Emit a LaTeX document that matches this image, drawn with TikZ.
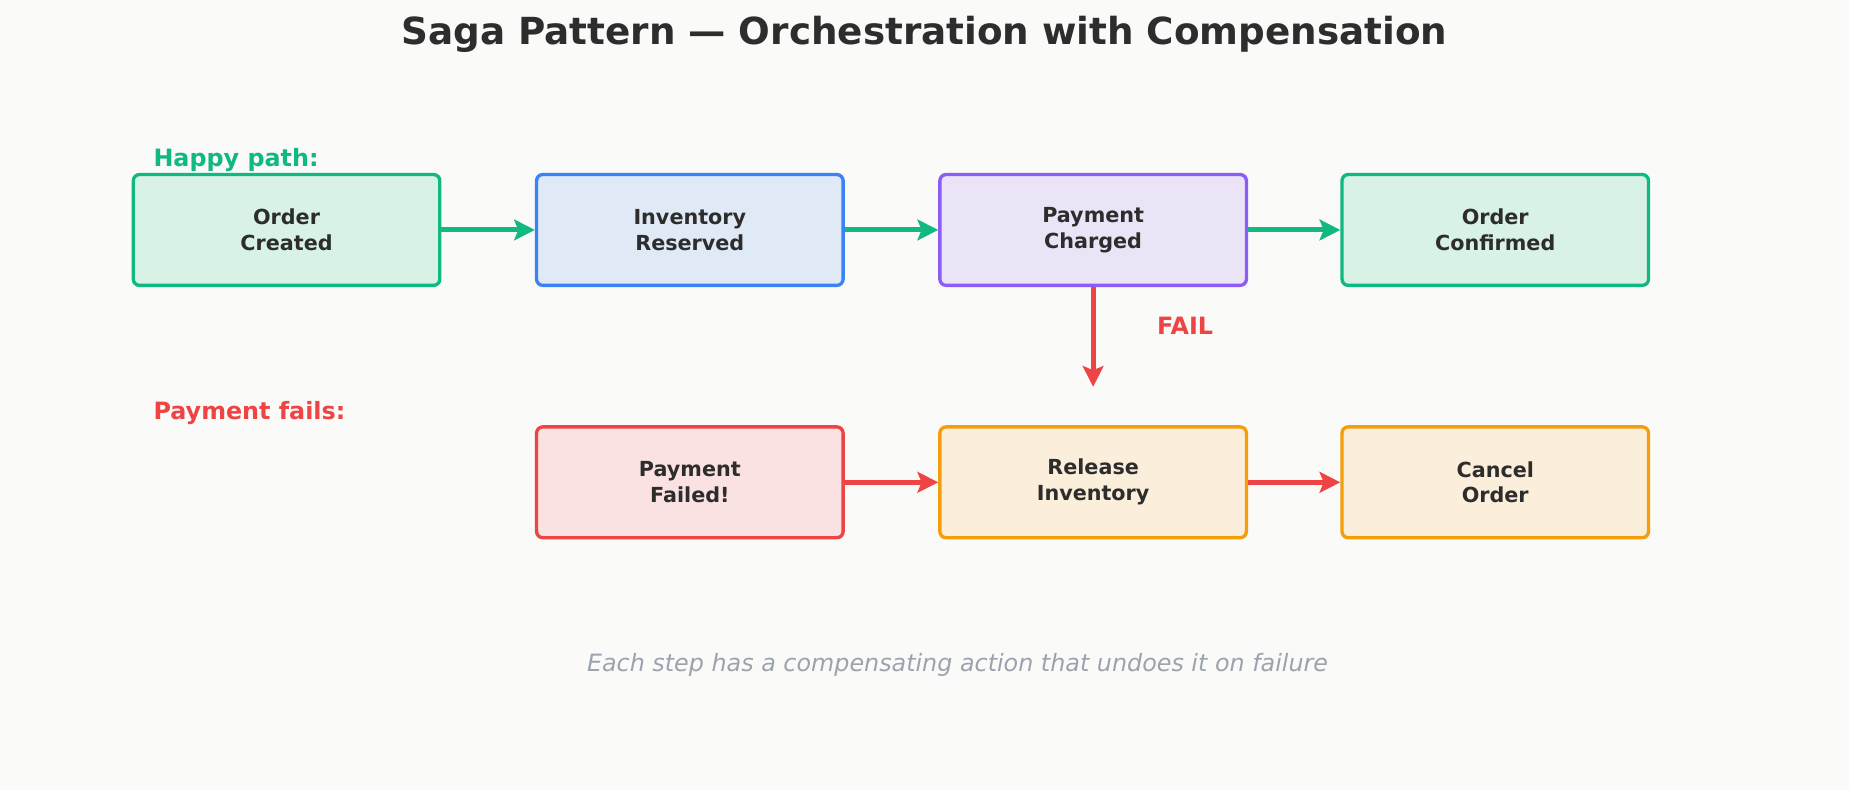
\documentclass[tikz,border=0pt]{standalone}
\usepackage{fontspec}
\setmainfont{DejaVu Sans}
\usetikzlibrary{positioning,arrows.meta}
\definecolor{bgc}{HTML}{FAFAF9}
\definecolor{txt}{HTML}{2D2D2D}
\definecolor{grn}{HTML}{10B981}\definecolor{grnf}{HTML}{D9F2E6}
\definecolor{blu}{HTML}{3B82F6}\definecolor{bluf}{HTML}{E0EAF7}
\definecolor{pur}{HTML}{8B5CF6}\definecolor{purf}{HTML}{EBE4F7}
\definecolor{rd}{HTML}{EF4444}\definecolor{rdf}{HTML}{FAE1E2}
\definecolor{org}{HTML}{F59E0B}\definecolor{orgf}{HTML}{FBEEDA}
\definecolor{gry}{HTML}{9CA3AF}
\begin{document}
\begin{tikzpicture}[x=0.02cm,y=-0.02cm,
  stage/.style = {draw, line width=1.6pt, rounded corners=3pt, minimum width=5.2cm, minimum height=1.88cm,
                 align=center, font=\bfseries\fontsize{10}{12.5}\selectfont, text=txt},
  flow/.style = {line width=2.4pt, -{Stealth[length=10pt,width=10pt,inset=2pt]}}]
  \fill[bgc] (0,0) rectangle (1568,670);
  \useasboundingbox (0,0) rectangle (1568,670);
  \node[font=\bfseries\fontsize{18}{22}\selectfont, text=txt] (title) at (784,29) {Saga Pattern — Orchestration with Compensation};
  \node[anchor=west, font=\bfseries\fontsize{11.5}{14}\selectfont, text=grn] (happy) at (124,136) {Happy path:};
  \node[anchor=west, font=\bfseries\fontsize{11.5}{14}\selectfont, text=rd] (fails) at (124,350) {Payment fails:};
  % happy path
  \node[stage, draw=grn, fill=grnf] (created) at (243,195) {Order\\Created};
  \node[stage, draw=blu, fill=bluf] (reserved) at (585,195) {Inventory\\Reserved};
  \node[stage, draw=pur, fill=purf] (charged) at (927,195) {Payment\\Charged};
  \node[stage, draw=grn, fill=grnf] (confirmed) at (1268,195) {Order\\Confirmed};
  % compensation
  \node[stage, draw=rd, fill=rdf] (failed) at (585,409) {Payment\\Failed!};
  \node[stage, draw=org, fill=orgf] (release) at (927,409) {Release\\Inventory};
  \node[stage, draw=org, fill=orgf] (cancel) at (1268,409) {Cancel\\Order};
  \coordinate (failend) at (927,328);
  \draw[flow, grn] (created) -- (reserved);
  \draw[flow, grn] (reserved) -- (charged);
  \draw[flow, grn] (charged) -- (confirmed);
  \draw[flow, rd] (charged) -- (failend);
  \node[font=\bfseries\fontsize{11.5}{14}\selectfont, text=rd] (faillbl) at (1005,276) {FAIL};
  \draw[flow, rd] (failed) -- (release);
  \draw[flow, rd] (release) -- (cancel);
  \node[font=\itshape\fontsize{11.5}{14}\selectfont, text=gry] (note) at (812,564) {Each step has a compensating action that undoes it on failure};
\end{tikzpicture}
\end{document}
